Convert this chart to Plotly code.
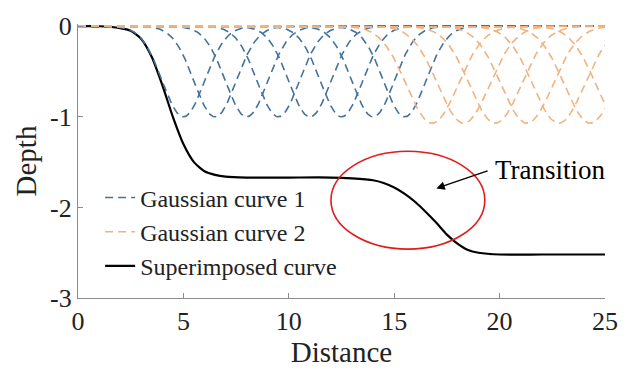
import numpy as np
import plotly.graph_objects as go

# Gaussian curve family 1 (blue): centres, depth and spread
g1_centers = [5.0, 6.5, 8.0, 9.5, 11.0, 12.5, 14.0, 15.5]
g1_depth = -1.0
g1_sigma = 1.0

# Gaussian curve family 2 (orange)
g2_centers = [16.8, 18.3, 19.8, 21.3, 22.8, 24.3, 25.8]
g2_depth = -1.07
g2_sigma = 1.22

# Superimposed depth profile
sup_x = [0, 1, 2, 2.5, 3, 3.5, 4, 4.5, 5, 5.5, 6, 6.5, 7, 8, 10, 12, 13, 14,
         14.5, 15, 15.5, 16, 16.5, 17, 17.5, 18, 18.5, 19, 20, 22, 25]
sup_y = [0, 0, -0.02, -0.05, -0.14, -0.34, -0.65, -1.0, -1.3, -1.5, -1.6,
         -1.64, -1.66, -1.67, -1.67, -1.67, -1.68, -1.70, -1.73, -1.78, -1.85,
         -1.94, -2.05, -2.17, -2.30, -2.40, -2.47, -2.50, -2.52, -2.52, -2.52]

x_ticks = [0, 5, 10, 15, 20, 25]
y_ticks = [0, -1, -2, -3]
y_tick_text = ["0", "-1", "-2", "-3"]

BLUE = "#44729D"
ORANGE = "#F2B27E"
SERIF = "Liberation Serif"

xs = np.linspace(0, 25, 501)

fig = go.Figure()

fig.add_trace(go.Scatter(
    x=sup_x, y=sup_y, mode="lines", line=dict(color="black", width=2.2, shape="spline", smoothing=0.6),
    name="Superimposed curve", legendrank=3))

for i, c in enumerate(g1_centers):
    fig.add_trace(go.Scatter(
        x=xs, y=g1_depth * np.exp(-(xs - c) ** 2 / (2 * g1_sigma ** 2)),
        mode="lines", line=dict(color=BLUE, width=1.6, dash="8px,5px"),
        name="Gaussian curve 1", legendgroup="g1", showlegend=(i == 0), legendrank=1))

for i, c in enumerate(g2_centers):
    fig.add_trace(go.Scatter(
        x=xs, y=g2_depth * np.exp(-(xs - c) ** 2 / (2 * g2_sigma ** 2)),
        mode="lines", line=dict(color=ORANGE, width=1.6, dash="8px,5px"),
        name="Gaussian curve 2", legendgroup="g2", showlegend=(i == 0), legendrank=2))

# transition zone marker
fig.add_shape(type="circle", xref="x", yref="y", x0=12.0, x1=19.3, y0=-2.46, y1=-1.38,
              line=dict(color="#E21B1B", width=1.6))
fig.add_annotation(x=17.0, y=-1.79, ax=19.5, ay=-1.59, axref="x", ayref="y",
                   showarrow=True, arrowhead=2, arrowsize=1.2, arrowwidth=1.4,
                   arrowcolor="black", text="")
fig.add_annotation(x=19.7, y=-1.59, text="Transition", showarrow=False,
                   xanchor="left", yanchor="middle",
                   font=dict(family=SERIF, size=27, color="black"))

axis_common = dict(showgrid=False, zeroline=False, showline=True, linecolor="#8C8C8C",
                   linewidth=1.2, ticks="inside", ticklen=5, tickcolor="#8C8C8C",
                   tickfont=dict(family=SERIF, size=26, color="#222"), mirror=False)

fig.update_xaxes(range=[0, 25], tickvals=x_ticks, **axis_common,
                 title=dict(text="Distance", font=dict(family=SERIF, size=29, color="#222"), standoff=2))
fig.update_yaxes(range=[-3, 0.025], tickvals=y_ticks, ticktext=y_tick_text, **axis_common,
                 title=dict(text="Depth", font=dict(family=SERIF, size=29, color="#222"), standoff=4))

fig.update_layout(
    width=630, height=371,
    margin=dict(l=78, r=17, t=17, b=71),
    paper_bgcolor="white", plot_bgcolor="white",
    legend=dict(x=0.042, y=0.035, xanchor="left", yanchor="bottom",
                bgcolor="rgba(0,0,0,0)", font=dict(family=SERIF, size=24, color="#222"),
                tracegroupgap=0, itemwidth=30),
)

fig.write_html("out.html")
